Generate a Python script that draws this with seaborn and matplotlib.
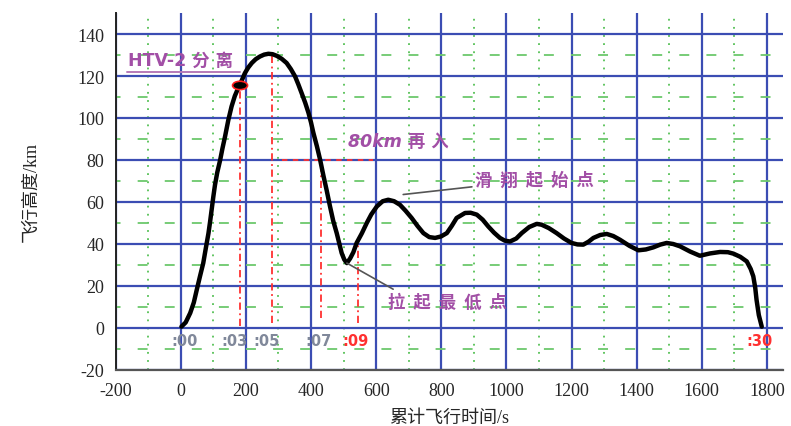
import matplotlib.pyplot as plt
import seaborn as sns
from matplotlib.patches import Ellipse

# Flight profile (time in s, altitude in km)
t = [2, 15, 29, 40, 49, 59, 69, 77, 85, 90, 95, 100, 105, 112, 121, 128,
     136, 146, 156, 166, 177, 187, 197, 207, 218, 230, 243, 256, 269, 282,
     295, 310, 325, 338, 351, 361, 371, 382, 392, 400, 407, 418, 428, 438,
     448, 458, 468, 479, 487, 494, 502, 510, 520, 530, 540, 556, 571, 585,
     602, 620, 637, 655, 673, 690, 709, 727, 745, 763, 781, 799, 817, 832,
     847, 873, 890, 909, 927, 944, 962, 980, 995, 1011, 1030, 1047, 1070,
     1093, 1108, 1130, 1154, 1177, 1200, 1218, 1236, 1252, 1267, 1288, 1308,
     1328, 1349, 1378, 1405, 1428, 1451, 1472, 1492, 1512, 1533, 1564, 1594,
     1625, 1656, 1680, 1697, 1718, 1738, 1750, 1758, 1764, 1768, 1775, 1784]
h = [0.5, 2.5, 7, 12, 18, 24.5, 30.8, 38, 45, 50.5, 56.5, 62.5, 68, 74, 80,
     85.5, 91.2, 99, 105.5, 110.5, 114.5, 117.8, 121.4, 124, 126.2, 128,
     129.3, 130.2, 130.6, 130.4, 129.6, 128.2, 126.2, 123.3, 119.8, 116,
     111.9, 107.3, 102.5, 97.8, 93, 86.5, 80, 72.5, 65.5, 58, 51, 45, 40,
     35.6, 32.5, 30.8, 33, 36, 40.4, 45, 49.9, 54, 57.8, 60.3, 61, 60.3,
     58.6, 55.8, 52.3, 48.5, 45.1, 43.2, 42.8, 43.5, 45.1, 48.5, 52.3, 54.7,
     54.8, 53.9, 51.5, 48.3, 45.3, 42.8, 41.5, 41.1, 42.5, 45.1, 48, 49.5,
     49.1, 47.5, 45.1, 42.5, 40.4, 39.7, 39.6, 41, 42.8, 44.2, 44.7, 43.7,
     41.9, 39, 36.9, 37.3, 38.3, 39.6, 40.4, 39.9, 38.8, 36.3, 34.3, 35.4,
     36.1, 36, 35.3, 33.8, 31.6, 28, 24.5, 19, 13.3, 6, 0.5]

# separation point and event markers
sep_t, sep_h = 182, 115.5
event_t = [182.5, 279, 430, 543]
event_top = [115.5, 130.6, 80, 39.6]
event_bot = [0.6, 2, 4.8, 2.4]
reentry_h = 80
reentry_x = [310, 589]

time_labels = [":00", ":03", ":05", ":07", ":09", ":30"]
time_x = [12, 164, 264, 422, 537, 1777]
time_red = [False, False, False, False, True, True]

sns.set_style("white")
plt.rcParams['font.family'] = ['Liberation Serif', 'Noto Sans CJK SC']
plt.rcParams['axes.unicode_minus'] = False

fig = plt.figure(figsize=(7.91, 4.27), dpi=100)
ax = fig.add_axes([0.1462, 0.132, 0.844, 0.835])

ax.set_xlim(-200, 1850)
ax.set_ylim(-20, 150)
ax.set_xticks(range(-200, 1801, 200))
ax.set_yticks(range(-20, 141, 20))
ax.set_xticks(range(-100, 1801, 200), minor=True)
ax.set_yticks(range(-10, 141, 20), minor=True)

# grid: blue major, green dotted minor
ax.grid(which='major', color='#3b4db3', linewidth=1.6, zorder=0)
ax.xaxis.grid(which='minor', color='#55c055', linestyle=(0, (1, 3.5)),
              linewidth=1.3)
ax.yaxis.grid(which='minor', color='#6cc86c', linestyle=(3, (5.5, 9.5)),
              linewidth=1.3)
ax.set_axisbelow(True)

for s in ['top', 'right']:
    ax.spines[s].set_visible(False)
ax.spines['left'].set_color('#222222')
ax.spines['left'].set_linewidth(1.4)
ax.spines['bottom'].set_color('#555555')
ax.spines['bottom'].set_linewidth(1.6)
ax.tick_params(which='both', length=0, labelsize=13)
ax.tick_params(axis='y', pad=8)
ax.tick_params(axis='x', pad=9)

# red dash-dot event lines
for x, y0, y1 in zip(event_t, event_bot, event_top):
    ax.plot([x, x], [y0, y1], color='#ff3030', linestyle=(0, (4, 2, 1, 2)),
            linewidth=1.3, zorder=2)
ax.plot(reentry_x, [reentry_h, reentry_h], color='#ff3030',
        linestyle=(0, (3, 3)), linewidth=1.3, zorder=2)

# trajectory
sns.lineplot(x=t, y=h, ax=ax, color='black', linewidth=3.2, zorder=4,
             sort=False, estimator=None)

ax.add_patch(Ellipse((sep_t, sep_h), 46, 4.0, facecolor='black',
                     edgecolor='#ff2020', linewidth=1.2, zorder=5))

purple = '#a24fa6'
ax.text(-163, 123.5, "HTV-2 分 离", color=purple, fontsize=12.5,
        fontweight='bold', family=['DejaVu Sans', 'Noto Sans CJK SC'],
        ha='left', va='bottom', zorder=6)
ax.plot([-165, 183], [122, 122], color='#b77ab8', linewidth=1.4, zorder=6)

ax.text(514, 88.8, "80km 再 入", color=purple, fontsize=12.5,
        fontweight='bold', style='italic',
        family=['DejaVu Sans', 'Noto Sans CJK SC'], ha='left', va='center',
        zorder=6)

ax.annotate("滑  翔  起  始  点", xy=(683, 63.5), xytext=(904, 70.5),
            color=purple, fontsize=12.5, fontweight='bold',
            family=['Noto Sans CJK SC'], ha='left', va='center', zorder=6,
            arrowprops=dict(arrowstyle='-', color='#555555', lw=1.2,
                            shrinkA=0, shrinkB=0))
ax.annotate("拉  起  最  低  点", xy=(510, 30.8), xytext=(636, 12.5),
            color=purple, fontsize=12.5, fontweight='bold',
            family=['Noto Sans CJK SC'], ha='left', va='center', zorder=6,
            arrowprops=dict(arrowstyle='-', color='#555555', lw=1.2,
                            shrinkA=0, shrinkB=0,
                            relpos=(0.12, 0.9)))

for lab, x, red in zip(time_labels, time_x, time_red):
    ax.text(x, -6.2, lab, color='#ff3030' if red else '#80889a',
            fontsize=10.5, fontweight='bold', family=['DejaVu Sans'],
            ha='center', va='center', zorder=6)

ax.set_xlabel("累计飞行时间/s", fontsize=13, labelpad=7)
ax.set_ylabel("飞行高度/km", fontsize=13, labelpad=27)

fig.savefig("out.png", dpi=100)
